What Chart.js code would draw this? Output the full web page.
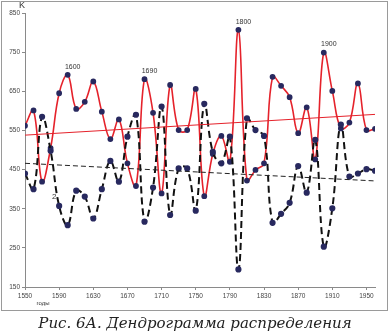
<!DOCTYPE html>
<html>
<head>
<meta charset="utf-8">
<script src="https://cdn.jsdelivr.net/npm/chart.js"></script>
<style>
  html, body { margin: 0; padding: 0; background: #fff; }
  #wrap { position: relative; width: 390px; height: 336px; }
  #c { position: absolute; left: 0; top: 0; }
  #caption {
    position: absolute; left: 0; top: 314px; width: 390px;
    text-align: center; color: #222;
    font: italic 15px "DejaVu Serif", serif;
  }
</style>
</head>
<body>
<div id="wrap">
  <canvas id="c" width="390" height="336"></canvas>
  <div id="caption">Рис. 6А. Дендрограмма распределения</div>
</div>
<script>
const years = [1550, 1560, 1570, 1580, 1590, 1600, 1610, 1620, 1630, 1640,
  1650, 1660, 1670, 1680, 1690, 1700, 1710, 1720, 1730, 1740,
  1750, 1760, 1770, 1780, 1790, 1800, 1810, 1820, 1830, 1840,
  1850, 1860, 1870, 1880, 1890, 1900, 1910, 1920, 1930, 1940,
  1950, 1960];

// кривая 1 (красная)
const series1 = [562, 601, 419, 505, 645, 692, 605, 623, 675, 598,
  528, 578, 466, 408, 681, 595, 389, 666, 551, 551,
  656, 382, 490, 536, 470, 807, 422, 449, 466, 687,
  664, 635, 543, 609, 476, 749, 651, 555, 570, 670,
  551, 554];

// кривая 2 (чёрная пунктирная)
const series2 = [440, 400, 585, 498, 357, 308, 396, 381, 325, 400,
  472, 419, 534, 590, 317, 404, 611, 334, 453, 453,
  345, 618, 495, 466, 534, 195, 581, 551, 536, 314,
  337, 365, 459, 391, 526, 253, 351, 565, 432, 440,
  451, 447];

const trendYears = [1550, 1960];
const trend1 = [538, 591];
const trend2 = [466, 421];

const xTicks = [1550, 1590, 1630, 1670, 1710, 1750, 1790, 1830, 1870, 1910, 1950];
const yTicks = [150, 250, 350, 450, 550, 650, 750, 850];

const peakYears = [1600, 1690, 1800, 1900];

const pts = (xs, ys) => xs.map((x, i) => ({ x: x, y: ys[i] }));

const tickFont = { family: 'Liberation Sans, Arial, sans-serif', size: 6.5 };
const axisColor = '#8a8a8a';

const extras = {
  id: 'extras',
  afterDraw(chart) {
    const ctx = chart.ctx;
    const xs = chart.scales.x, ys = chart.scales.y;
    ctx.save();
    // рамка
    ctx.strokeStyle = '#9a9a9a';
    ctx.lineWidth = 1;
    ctx.strokeRect(1.5, 1.5, 386, 309);

    ctx.fillStyle = '#333';
    ctx.textAlign = 'center';
    ctx.textBaseline = 'middle';
    ctx.font = '7px Liberation Sans, Arial, sans-serif';
    peakYears.forEach(y => {
      const v = series1[years.indexOf(y)];
      ctx.fillText(String(y), xs.getPixelForValue(y) + 5, ys.getPixelForValue(v) - 8);
    });

    ctx.font = '9px Liberation Sans, Arial, sans-serif';
    ctx.fillText('K', chart.chartArea.left - 3, 6);

    ctx.font = '6px Liberation Sans, Arial, sans-serif';
    ctx.fillText('годы', 43, 303);

    ctx.font = '8px Liberation Sans, Arial, sans-serif';
    ctx.fillText('2', xs.getPixelForValue(1590) - 5, ys.getPixelForValue(357) - 9);
    ctx.restore();
  }
};

new Chart(document.getElementById('c'), {
  type: 'line',
  data: {
    datasets: [
      {
        label: '1',
        data: pts(years, series1),
        borderColor: '#e5222b',
        borderWidth: 1.6,
        tension: 0.4,
        pointRadius: 2.1,
        pointBackgroundColor: '#28295f',
        pointBorderColor: '#28295f',
        order: 2,
      },
      {
        label: '2',
        data: pts(years, series2),
        borderColor: '#111',
        borderWidth: 2,
        borderDash: [7, 4],
        tension: 0.4,
        pointRadius: 2.1,
        pointBackgroundColor: '#28295f',
        pointBorderColor: '#28295f',
        order: 1,
      },
      {
        label: 'trend1',
        data: pts(trendYears, trend1),
        borderColor: '#e5222b',
        borderWidth: 1,
        pointRadius: 0,
      },
      {
        label: 'trend2',
        data: pts(trendYears, trend2),
        borderColor: '#222',
        borderWidth: 1,
        borderDash: [5, 3],
        pointRadius: 0,
      },
    ],
  },
  options: {
    responsive: false,
    animation: false,
    layout: { padding: { left: 0, top: 13, right: 15, bottom: 29 } },
    plugins: { legend: { display: false }, tooltip: { enabled: false } },
    scales: {
      x: {
        type: 'linear',
        min: 1550,
        max: 1960,
        afterBuildTicks: s => { s.ticks = xTicks.map(v => ({ value: v })); },
        afterFit: s => { s.height = 20; },
        border: { color: axisColor, width: 1 },
        grid: { drawOnChartArea: false, drawTicks: true, tickLength: 3, color: axisColor },
        ticks: { font: tickFont, color: '#444', padding: 2, maxRotation: 0, callback: v => String(v) },
      },
      y: {
        min: 150,
        max: 850,
        afterBuildTicks: s => { s.ticks = yTicks.map(v => ({ value: v })); },
        afterFit: s => { s.width = 25; },
        border: { color: axisColor, width: 1 },
        grid: { drawOnChartArea: false, drawTicks: true, tickLength: 3, color: axisColor },
        ticks: { font: tickFont, color: '#444', padding: 2 },
      },
    },
  },
  plugins: [extras],
});
</script>
</body>
</html>
